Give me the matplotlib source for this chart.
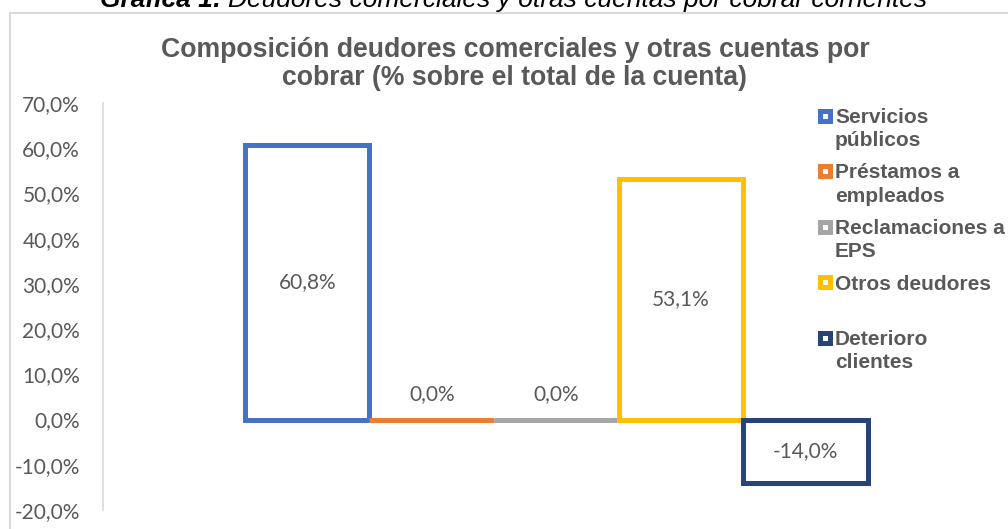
import matplotlib
matplotlib.use("Agg")
import matplotlib.pyplot as plt
from matplotlib.patches import Rectangle

# Datos de la gráfica
series = ["Servicios públicos", "Préstamos a empleados", "Reclamaciones a EPS",
          "Otros deudores", "Deterioro clientes"]
legend_lines = ["Servicios\npúblicos", "Préstamos a\nempleados", "Reclamaciones a\nEPS",
                "Otros deudores", "Deterioro\nclientes"]
values = [60.8, 0.0, 0.0, 53.1, -14.0]
colors = ["#4472C4", "#ED7D31", "#A5A5A5", "#FFC000", "#264478"]
y_ticks = [-20, -10, 0, 10, 20, 30, 40, 50, 60, 70]

W, H = 1008, 529
GRAY = "#595959"


def fx(px):
    return px / W


def fy(py):
    return 1 - py / H


def pct(v):
    return f"{v:.1f}".replace(".", ",") + "%"


fig = plt.figure(figsize=(W / 100, H / 100), dpi=100)

# borde del área del gráfico
fig.add_artist(Rectangle((fx(10), fy(700)), 1.2, fy(13) - fy(700), transform=fig.transFigure,
                         fill=False, edgecolor="#d9d9d9", lw=1.5))

# encabezado (cortado arriba)
r = fig.canvas.get_renderer()
t1 = fig.text(fx(100), fy(7), "Gráfica 1:", fontsize=19, fontweight="bold", style="italic",
              family="Liberation Sans", va="baseline", color="black")
bb = t1.get_window_extent(renderer=r)
fig.text((bb.x1 + 6) / W, fy(7), "Deudores comerciales y otras cuentas por cobrar corrientes",
         fontsize=19, style="italic", family="Liberation Sans", va="baseline", color="black")

# título
fig.text(fx(515), fy(57), "Composición deudores comerciales y otras cuentas por",
         ha="center", va="baseline", fontsize=19.2, fontweight="bold",
         family="Liberation Sans", color=GRAY)
fig.text(fx(515), fy(85), "cobrar (% sobre el total de la cuenta)",
         ha="center", va="baseline", fontsize=19.2, fontweight="bold",
         family="Liberation Sans", color=GRAY)

ax = fig.add_axes([fx(103), fy(510), fx(880) - fx(103), fy(103) - fy(510)])
ax.patch.set_alpha(0)
x = list(range(len(values)))
ax.bar(x, values, width=1, color="white", edgecolor=colors, linewidth=3.6, zorder=3)

for xi, v in zip(x, values):
    if v == 0:
        ax.annotate(pct(v), (xi, 0), xytext=(0, 25), textcoords="offset pixels",
                    ha="center", va="center", fontsize=15, family="Lato", color=GRAY)
    else:
        ax.text(xi, v / 2, pct(v), ha="center", va="center", fontsize=15,
                family="Lato", color=GRAY, zorder=4)

ax.set_xlim(-1.64, 4.60)
ax.set_ylim(-20, 70)
ax.set_xticks([])
ax.set_yticks(y_ticks)
ax.set_yticklabels([pct(t) for t in y_ticks])
for lbl in ax.get_yticklabels():
    lbl.set_family("Lato")
ax.tick_params(axis="y", length=0, pad=16.5, labelsize=15, labelcolor=GRAY)
for s in ["top", "right", "bottom"]:
    ax.spines[s].set_visible(False)
ax.spines["left"].set_color("#d9d9d9")
ax.spines["left"].set_linewidth(1.2)

# leyenda
for i, (lab, c) in enumerate(zip(legend_lines, colors)):
    cy = 115.5 + i * 55.5
    fig.add_artist(Rectangle((fx(819.5), fy(cy + 5)), 10 / W, 10 / H, transform=fig.transFigure,
                             facecolor="white", edgecolor=c, lw=3.6))
    for k, line in enumerate(lab.split("\n")):
        fig.text(fx(835), fy(cy + 7.5 + k * 23), line, ha="left", va="baseline",
                 fontsize=15, fontweight="bold", family="Liberation Sans", color=GRAY)

fig.savefig("out.png", dpi=100)
